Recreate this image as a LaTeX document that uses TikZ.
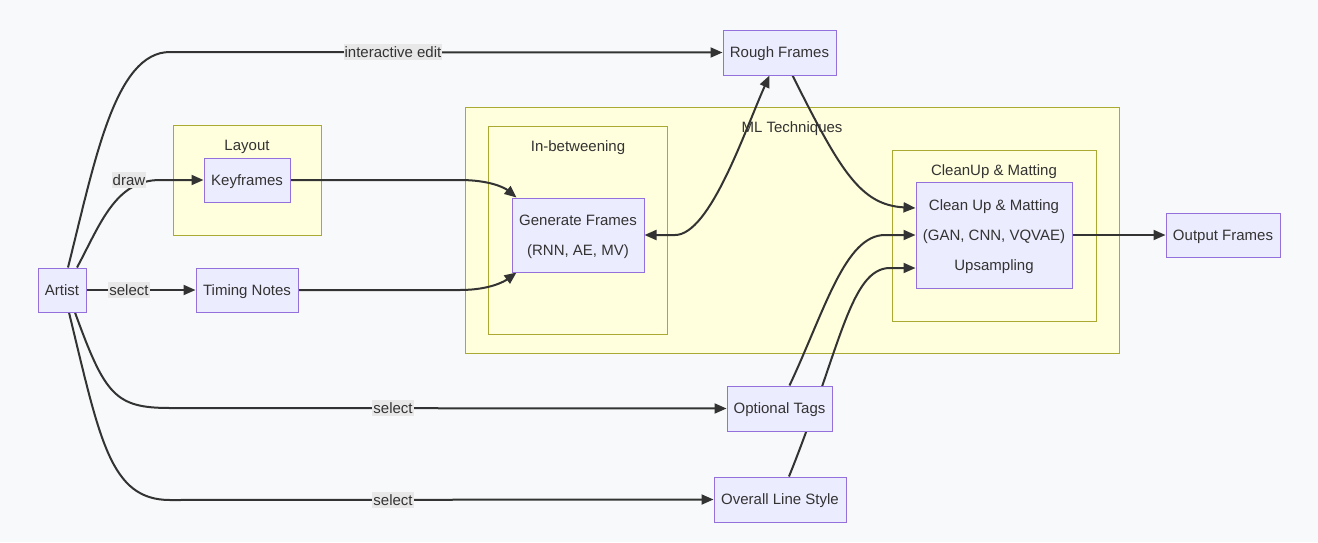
\documentclass[tikz,border=0pt]{standalone}
\usepackage{fontspec}
\setmainfont{Liberation Sans}
\usetikzlibrary{arrows.meta,calc}

\definecolor{pagebg}{HTML}{F8F9FA}
\definecolor{nodefill}{HTML}{ECECFF}
\definecolor{nodeline}{HTML}{9370DB}
\definecolor{clusterfill}{HTML}{FFFFDE}
\definecolor{clusterline}{HTML}{AAAA33}
\definecolor{edgecol}{HTML}{333333}
\definecolor{labelbg}{HTML}{E8E8E8}

\pgfdeclarelayer{bg}
\pgfdeclarelayer{edges}
\pgfsetlayers{bg,edges,main}

\begin{document}
\begin{tikzpicture}[x=1pt,y=-1pt,
  font=\fontsize{15}{30}\selectfont, text=edgecol,
  box/.style={draw=nodeline, fill=nodefill, line width=1pt, inner sep=0pt,
    align=center, text height=10.7pt, text depth=0pt},
  twolines/.style={text height=40.7pt},
  threelines/.style={text height=70.7pt},
  cluster/.style={draw=clusterline, fill=clusterfill, line width=1pt},
  ctitle/.style={inner sep=0pt, text height=10.7pt, text depth=0pt},
  elabel/.style={fill=labelbg, inner xsep=1pt, inner ysep=3pt,
    text height=10.7pt, text depth=0pt},
  flow/.style={draw=edgecol, line width=2pt, -{Triangle[length=12pt,width=10pt]}},
  both/.style={draw=edgecol, line width=2pt,
    {Triangle[length=12pt,width=10pt]}-{Triangle[length=12pt,width=10pt]}}]

\useasboundingbox (0,0) rectangle (1318,542);

\begin{pgfonlayer}{bg}
  \fill[pagebg] (0,0) rectangle (1318,542);
  % subgraphs
  \draw[cluster] (173,125) rectangle (321,235);
  \draw[cluster] (465,107) rectangle (1119,353);
  \draw[cluster] (488,126) rectangle (667,334);
  \draw[cluster] (892,150) rectangle (1096,321);
\end{pgfonlayer}

\node[ctitle] (tlayout) at (247,145) {Layout};
\node[ctitle] (tml) at (792,127) {ML Techniques};
\node[ctitle] (tinb) at (578,146) {In-betweening};
\node[ctitle] (tclean) at (994,170) {CleanUp \& Matting};

% nodes
\node[box, minimum width=48pt, minimum height=44pt] (artist) at (62,290) {Artist};
\node[box, minimum width=86pt, minimum height=44pt] (key) at (247,180) {Keyframes};
\node[box, minimum width=102pt, minimum height=44pt] (timing) at (247,290) {Timing Notes};
\node[box, minimum width=113pt, minimum height=45pt] (rough) at (779.5,52.5) {Rough Frames};
\node[box, twolines, minimum width=132pt, minimum height=74pt] (gen) at (578,235) {Generate Frames\\(RNN, AE, MV)};
\node[box, threelines, minimum width=156pt, minimum height=106pt] (clean) at (994,235) {Clean Up \& Matting\\(GAN, CNN, VQVAE)\\Upsampling};
\node[box, minimum width=114pt, minimum height=44pt] (out) at (1223,235) {Output Frames};
\node[box, minimum width=105pt, minimum height=45pt] (tags) at (779.5,408.5) {Optional Tags};
\node[box, minimum width=132pt, minimum height=45pt] (lstyle) at (780,499.5) {Overall Line Style};

% connectors
\begin{pgfonlayer}{edges}
  \draw[flow] ($(artist.north)+(6,0)$) .. controls (95,160) and (115,52) .. (170,52) -- (rough.west);
  \draw[flow] ($(artist.north)+(15,0)$) .. controls (100,225) and (115,180) .. (160,180) -- (key.west);
  \draw[flow] (artist.east) -- (timing.west);
  \draw[flow] ($(artist.south)+(13,0)$) .. controls (105,395) and (115,408) .. (170,408) -- (tags.west);
  \draw[flow] ($(artist.south)+(7,0)$) .. controls (100,440) and (110,500) .. (170,500) -- (lstyle.west);
  \draw[flow] (key.east) -- (460,180) .. controls (490,180) and (505,188) .. ($(gen.north west)+(5,0)$);
  \draw[flow] (timing.east) -- (460,290) .. controls (490,290) and (505,281) .. ($(gen.south west)+(5,0)$);
  \draw[both] (gen.east) -- (675,235) .. controls (710,235) and (745,130) .. ($(rough.south west)+(47,0)$);
  \draw[flow] ($(rough.south west)+(70,0)$) .. controls (840,170) and (860,205) .. ($(clean.west)+(0,-27)$);
  \draw[flow] ($(tags.north)+(10,0)$) .. controls (825,310) and (845,235) .. (885,235) -- (clean.west);
  \draw[flow] ($(lstyle.north)+(9,0)$) .. controls (840,350) and (850,268) .. (890,268) -- ($(clean.west)+(0,33)$);
  \draw[flow] (clean.east) -- (out.west);
\end{pgfonlayer}

% connector labels
\node[elabel] (linteractive) at (393,52) {interactive edit};
\node[elabel] (ldraw) at (129,180) {draw};
\node[elabel] (lselect1) at (129,290) {select};
\node[elabel] (lselect2) at (393,408) {select};
\node[elabel] (lselect3) at (393,500) {select};

\end{tikzpicture}
\end{document}
